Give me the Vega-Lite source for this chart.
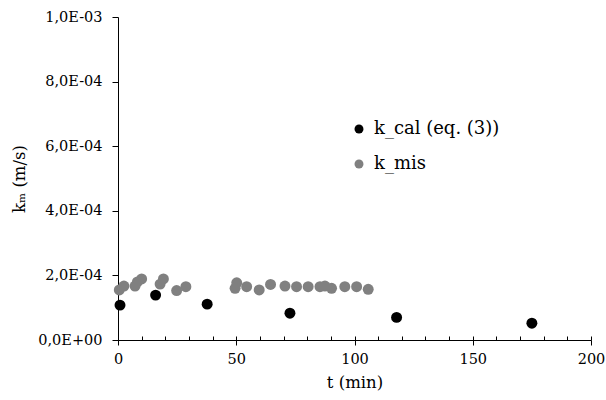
{
  "$schema": "https://vega.github.io/schema/vega-lite/v6.json",
  "width": 473,
  "height": 323,
  "autosize": {"type": "none"},
  "padding": {"left": 118, "top": 17, "right": 15, "bottom": 60},
  "background": "white",
  "config": {
    "view": {"stroke": null},
    "font": "DejaVu Serif",
    "axis": {"grid": false, "labelFlush": false, "labelOverlap": false, "domainColor": "#000", "tickColor": "#000", "labelColor": "#000", "titleColor": "#000", "labelFont": "DejaVu Serif", "titleFont": "DejaVu Serif", "labelFontSize": 14.5, "titleFontSize": 16.5, "titleFontWeight": "normal", "domainWidth": 1, "tickWidth": 1},
    "legend": {"labelFont": "DejaVu Serif"}
  },
  "data": {
    "values": [
      {"t": 0.85, "k": 1.08e-4, "s": "k_cal (eq. (3))"},
      {"t": 15.9, "k": 1.39e-4, "s": "k_cal (eq. (3))"},
      {"t": 37.7, "k": 1.11e-4, "s": "k_cal (eq. (3))"},
      {"t": 72.7, "k": 0.83e-4, "s": "k_cal (eq. (3))"},
      {"t": 117.8, "k": 0.70e-4, "s": "k_cal (eq. (3))"},
      {"t": 175, "k": 0.52e-4, "s": "k_cal (eq. (3))"},
      {"t": 0.55, "k": 1.55e-4, "s": "k_mis"},
      {"t": 2.5, "k": 1.67e-4, "s": "k_mis"},
      {"t": 7.2, "k": 1.67e-4, "s": "k_mis"},
      {"t": 8.2, "k": 1.80e-4, "s": "k_mis"},
      {"t": 10, "k": 1.89e-4, "s": "k_mis"},
      {"t": 17.8, "k": 1.73e-4, "s": "k_mis"},
      {"t": 19.2, "k": 1.89e-4, "s": "k_mis"},
      {"t": 24.8, "k": 1.53e-4, "s": "k_mis"},
      {"t": 28.7, "k": 1.65e-4, "s": "k_mis"},
      {"t": 49.5, "k": 1.60e-4, "s": "k_mis"},
      {"t": 50.2, "k": 1.77e-4, "s": "k_mis"},
      {"t": 54.4, "k": 1.65e-4, "s": "k_mis"},
      {"t": 59.7, "k": 1.55e-4, "s": "k_mis"},
      {"t": 64.5, "k": 1.72e-4, "s": "k_mis"},
      {"t": 70.6, "k": 1.67e-4, "s": "k_mis"},
      {"t": 75.5, "k": 1.65e-4, "s": "k_mis"},
      {"t": 80.4, "k": 1.65e-4, "s": "k_mis"},
      {"t": 85.4, "k": 1.65e-4, "s": "k_mis"},
      {"t": 87.5, "k": 1.67e-4, "s": "k_mis"},
      {"t": 90.3, "k": 1.60e-4, "s": "k_mis"},
      {"t": 95.9, "k": 1.65e-4, "s": "k_mis"},
      {"t": 100.9, "k": 1.65e-4, "s": "k_mis"},
      {"t": 105.8, "k": 1.57e-4, "s": "k_mis"}
    ]
  },
  "resolve": {"axis": {"x": "independent"}},
  "layer": [
    {
      "mark": {"type": "point", "filled": true, "opacity": 1, "size": 120},
      "encoding": {
        "x": {"field": "t", "type": "quantitative", "scale": {"domain": [0, 200], "nice": false, "zero": false},
          "axis": {"orient": "bottom", "title": "t (min)", "values": [0, 50, 100, 150, 200], "tickSize": 5, "labelPadding": 7, "titlePadding": 9}},
        "y": {"field": "k", "type": "quantitative", "scale": {"domain": [0, 0.001], "nice": false},
          "axis": {"title": "kₘ (m/s)", "values": [0, 0.0002, 0.0004, 0.0006, 0.0008, 0.001], "tickSize": 6, "labelPadding": 10, "titlePadding": 10,
            "labelExpr": "replace(replace(replace(format(datum.value, '.1e'), '.', ','), 'e-', 'E-0'), 'e+', 'E+0')"}},
        "color": {"field": "s", "type": "nominal", "scale": {"domain": ["k_cal (eq. (3))", "k_mis"], "range": ["#000000", "#808080"]},
          "legend": {"title": null, "orient": "none", "legendX": 232, "legendY": 103, "labelFontSize": 18, "labelColor": "#000", "symbolSize": 80, "symbolType": "circle", "rowPadding": 17, "labelOffset": 6}}
      }
    },
    {
      "mark": {"type": "point", "opacity": 0},
      "encoding": {
        "x": {"field": "t", "type": "quantitative", "scale": {"domain": [0, 200], "nice": false, "zero": false},
          "axis": {"orient": "bottom", "title": null, "labels": false, "domain": false, "values": [0, 10, 20, 30, 40, 50, 60, 70, 80, 90, 100, 110, 120, 130, 140, 150, 160, 170, 180, 190, 200], "tickSize": -4}},
        "y": {"field": "k", "type": "quantitative"}
      }
    }
  ]
}
